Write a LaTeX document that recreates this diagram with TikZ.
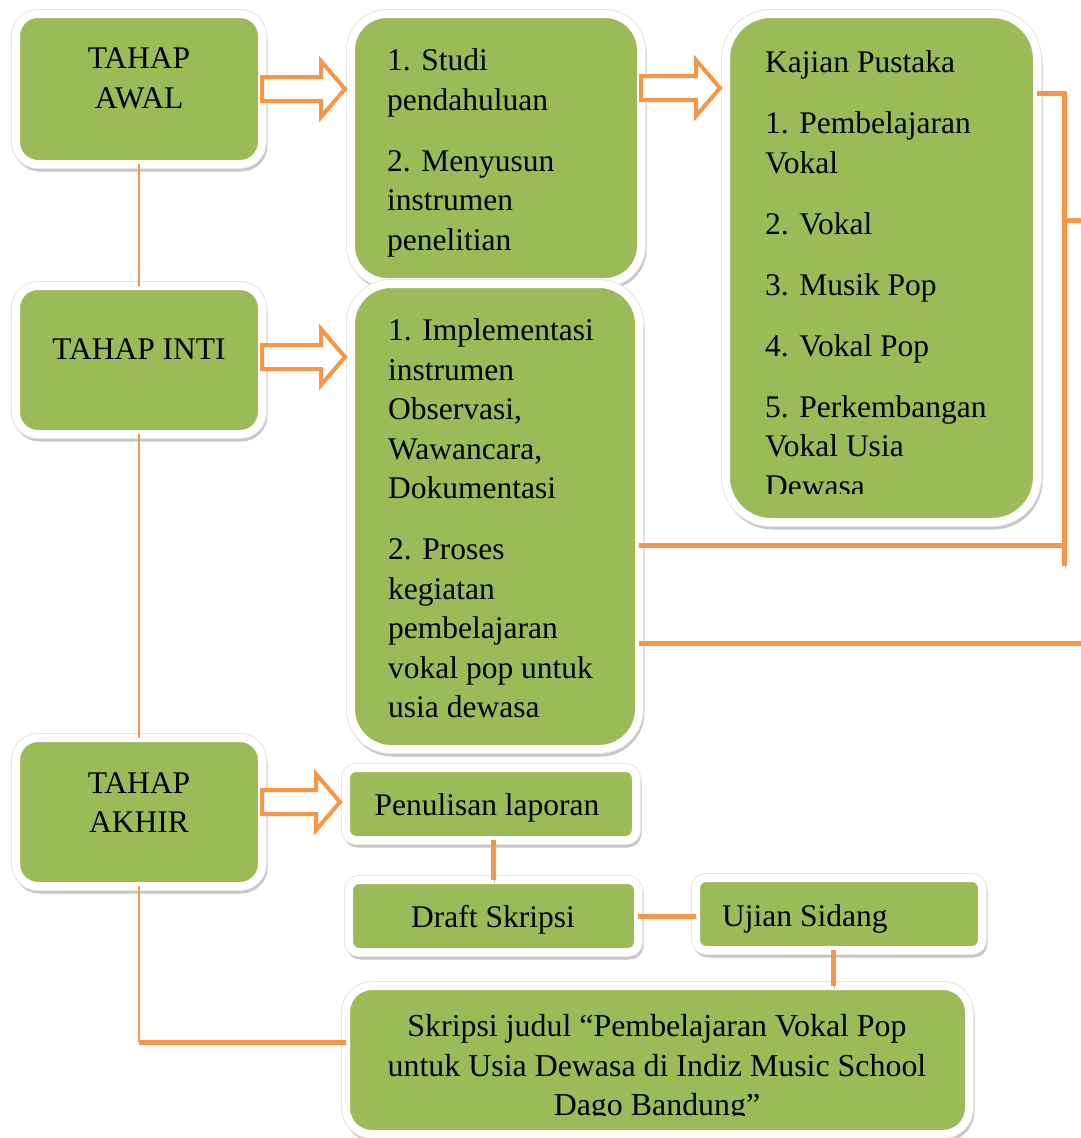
\documentclass[tikz,border=0pt]{standalone}
\usepackage{fontspec}
\setmainfont{Liberation Serif}
\usetikzlibrary{calc}
\definecolor{gr}{HTML}{9BBB59}
\definecolor{og}{HTML}{F79646}
\tikzset{
  box/.style={draw=white, line width=8pt, fill=gr, inner sep=0pt, outer sep=0pt,
    preaction={draw=black!22, fill=black!22, line width=8pt, transform canvas={shift={(1.5pt,-3.5pt)}}},
    preaction={draw=black!10, line width=10pt}},
  txt/.style={inner sep=0pt, font=\fontsize{31.5}{39.5}\selectfont, align=left, anchor=north west},
  ctxt/.style={txt, align=center, anchor=north},
  stxt/.style={inner sep=0pt, font=\fontsize{31.5}{39.5}\selectfont},
  link/.style={draw=og, line width=5pt, preaction={draw=black!22, transform canvas={shift={(1pt,-2.5pt)}}}},
  thinlink/.style={draw=og, line width=2.5pt},
  barrow/.style={draw=og, line width=4pt, fill=white, line join=miter},
}
\newcommand\blockarr[3]{%
  \draw[barrow] let \p1=(#1.east), \p2=(#2.west) in
    (\x1,{-#3pt+12pt}) -- ({\x2-30pt},{-#3pt+12pt}) -- ({\x2-30pt},{-#3pt+28pt})
    -- ({\x2-6pt},{-#3pt}) -- ({\x2-30pt},{-#3pt-28pt}) -- ({\x2-30pt},{-#3pt-12pt})
    -- (\x1,{-#3pt-12pt}) -- cycle;}
\begin{document}
\begin{tikzpicture}[x=1pt,y=-1pt]
\useasboundingbox (0,0) rectangle (1080,1138);
\fill[white] (0,0) rectangle (1080,1138);

\node[box, rounded corners=22pt, minimum width=246pt, minimum height=150pt] (awal) at (139,89) {};
\node[box, rounded corners=22pt, minimum width=246pt, minimum height=148pt] (inti) at (139,360) {};
\node[box, rounded corners=22pt, minimum width=246pt, minimum height=148pt] (akhir) at (139,812) {};
\draw[thinlink] (awal.south) -- (inti.north);
\draw[thinlink] (inti.south) -- (akhir.north);

\node[ctxt] (tawal) at (139,48) {TAHAP\\AWAL};
\node[stxt, anchor=base] (tinti) at (139,359) {TAHAP INTI};
\node[ctxt] (takhir) at (139,772) {TAHAP\\AKHIR};

% middle and right columns
\node[box, rounded corners=36pt, minimum width=290pt, minimum height=268pt] (studi) at (496,148) {};
\node[box, rounded corners=40pt, minimum width=288pt, minimum height=465pt] (impl) at (495,516.5) {};
\node[box, rounded corners=45pt, minimum width=311pt, minimum height=508pt] (kajian) at (881.5,268) {};

\node[txt] (tstudi) at (387,48.5) {1. Studi\\pendahuluan\\[21.5pt]2. Menyusun\\instrumen\\penelitian};
\node[txt] (timpl) at (388,318.5) {1. Implementasi\\instrumen\\Observasi,\\Wawancara,\\Dokumentasi\\[21.5pt]2. Proses\\kegiatan\\pembelajaran\\vokal pop untuk\\usia dewasa};
\begin{scope}
\clip (730,14) rectangle (1033,493);
\node[txt] (tkajian) at (765,50.5) {Kajian Pustaka\\[21.5pt]1. Pembelajaran\\Vokal\\[21.5pt]2. Vokal\\[21.5pt]3. Musik Pop\\[21.5pt]4. Vokal Pop\\[21.5pt]5. Perkembangan\\Vokal Usia\\Dewasa};
\end{scope}

% bottom section
\node[box, rounded corners=10pt, minimum width=290pt, minimum height=72pt] (tulis) at (491,804) {};
\node[box, rounded corners=10pt, minimum width=289pt, minimum height=72pt] (draft) at (493.5,916) {};
\node[box, rounded corners=10pt, minimum width=286pt, minimum height=72pt] (ujian) at (839,914) {};
\node[box, rounded corners=26pt, minimum width=623pt, minimum height=148pt] (final) at (657.5,1060) {};

\node[stxt, anchor=base] (ttulis) at (487,815) {Penulisan laporan};
\node[stxt, anchor=base] (tdraft) at (493,927) {Draft Skripsi};
\node[stxt, anchor=base west] (tujian) at (722,926) {Ujian Sidang};
\begin{scope}
\clip (350,986) rectangle (965,1115);
\node[ctxt, font=\fontsize{31.9}{39.5}\selectfont] (tfinal) at (657,1014.5) {Skripsi judul \textquotedblleft Pembelajaran Vokal Pop\\untuk Usia Dewasa di Indiz Music School\\Dago Bandung\textquotedblright};
\end{scope}

% block arrows
\blockarr{awal}{studi}{89}
\blockarr{inti}{impl}{357}
\blockarr{akhir}{tulis}{802}
\blockarr{studi}{kajian}{88}

% orange connectors
\coordinate (c1) at (139,1042);
\draw[thinlink] (akhir.south) -- (c1);
\draw[link] (c1) -- (c1 -| final.west);

\coordinate (r1) at (1064,93);
\coordinate (r2) at (1064,566);
\coordinate (r3) at (1082,220);
\coordinate (r4) at (1064,545);
\coordinate (r5) at (1082,643);
\draw[link] (kajian.east |- r1) -- (r1) -- (r2);
\draw[link] (r1 |- r3) -- (r3);
\draw[link] (impl.east |- r4) -- (r4);
\draw[link] (impl.east |- r5) -- (r5);

\draw[link] ([xshift=2pt]tulis.south) -- ([xshift=2pt]tulis.south |- draft.north);
\draw[link] (draft.east) -- (draft.east -| ujian.west);
\draw[link] ([xshift=-6pt]ujian.south) -- ([xshift=-6pt]ujian.south |- final.north);
\end{tikzpicture}
\end{document}
